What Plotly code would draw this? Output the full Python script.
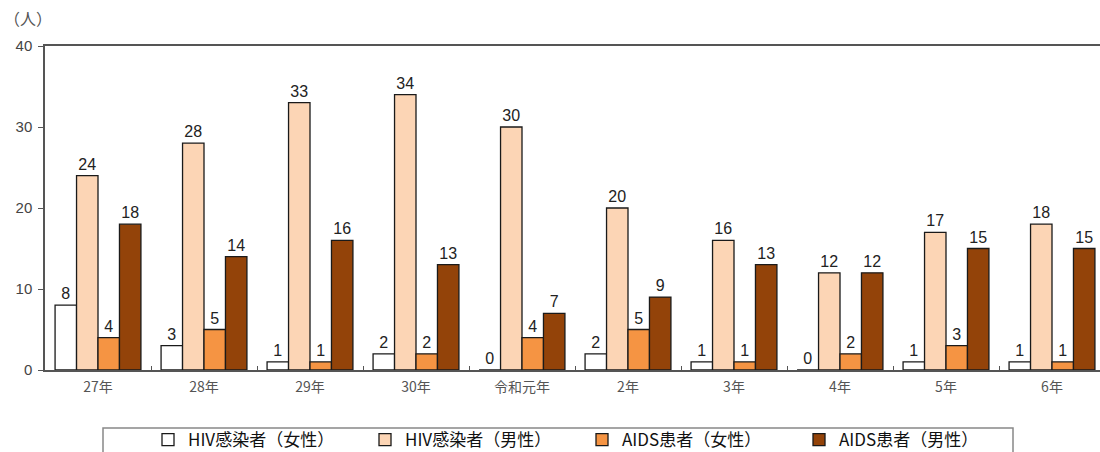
import plotly.graph_objects as go

years = ["27年", "28年", "29年", "30年", "令和元年", "2年", "3年", "4年", "5年", "6年"]
hiv_female = [8, 3, 1, 2, 0, 2, 1, 0, 1, 1]
hiv_male = [24, 28, 33, 34, 30, 20, 16, 12, 17, 18]
aids_female = [4, 5, 1, 2, 4, 5, 1, 2, 3, 1]
aids_male = [18, 14, 16, 13, 7, 9, 13, 12, 15, 15]

series = [
    ("HIV感染者（女性）", hiv_female, "#FFFFFF"),
    ("HIV感染者（男性）", hiv_male, "#FCD5B5"),
    ("AIDS患者（女性）", aids_female, "#F59443"),
    ("AIDS患者（男性）", aids_male, "#934309"),
]

FONT = "Noto Sans CJK JP, Noto Sans, sans-serif"

fig = go.Figure()
for name, vals, color in series:
    fig.add_trace(go.Bar(
        name=name,
        x=years,
        y=vals,
        marker=dict(color=color, line=dict(color="#1a1a1a", width=1.3)),
        text=[str(v) for v in vals],
        textposition="outside",
        textfont=dict(family="Liberation Sans, Arial, sans-serif", size=16, color="#222222"),
        cliponaxis=False,
    ))

W, H = 1100, 452
L, T, B, R = 45, 46, 82, 0
plot_w = W - L - R
plot_h = H - T - B
cat_px = 106

fig.update_layout(
    width=W, height=H,
    margin=dict(l=L, r=R, t=T, b=B, autoexpand=False),
    barmode="group",
    bargap=0.19,
    bargroupgap=0,
    plot_bgcolor="white",
    paper_bgcolor="white",
    font=dict(family=FONT, size=13, color="#444444"),
    showlegend=True,
    legend=dict(
        orientation="h",
        x=(148 - L) / plot_w, xanchor="left",
        y=-(440 - (H - B)) / plot_h, yanchor="middle",
        entrywidth=172, entrywidthmode="pixels",
        itemwidth=30,
        font=dict(family=FONT, size=17, color="#111111"),
        bgcolor="rgba(0,0,0,0)",
        borderwidth=0,
        traceorder="normal",
    ),
    xaxis=dict(
        range=[-0.5, -0.5 + plot_w / cat_px],
        showline=True, linecolor="#555555", linewidth=1.5,
        mirror=True,
        ticks="inside", ticklen=4, tickcolor="#555555",
        tickson="boundaries",
        ticklabelstandoff=3,
        tickfont=dict(family=FONT, size=14, color="#555555"),
        showgrid=False,
        fixedrange=True,
    ),
    yaxis=dict(
        range=[0, 40], dtick=10,
        showline=True, linecolor="#555555", linewidth=1.5,
        ticks="outside", ticklen=5, tickcolor="#555555",
        ticklabelstandoff=3,
        tickfont=dict(family="Liberation Sans, Arial, sans-serif", size=15, color="#444444"),
        showgrid=False, zeroline=False,
        fixedrange=True,
    ),
    annotations=[dict(
        text="（人）", xref="paper", yref="paper",
        x=-L / plot_w + 2 / plot_w, y=1 + 28 / plot_h,
        xanchor="left", yanchor="middle", showarrow=False,
        font=dict(family=FONT, size=16, color="#555555"),
    )],
    shapes=[dict(
        type="rect", xref="paper", yref="paper",
        x0=(103 - L) / plot_w, x1=(1013 - L) / plot_w,
        y0=-0.4, y1=-(428 - (H - B)) / plot_h,
        line=dict(color="#888888", width=1.5),
        fillcolor="rgba(0,0,0,0)",
    )],
)

fig.write_html("out.html")
